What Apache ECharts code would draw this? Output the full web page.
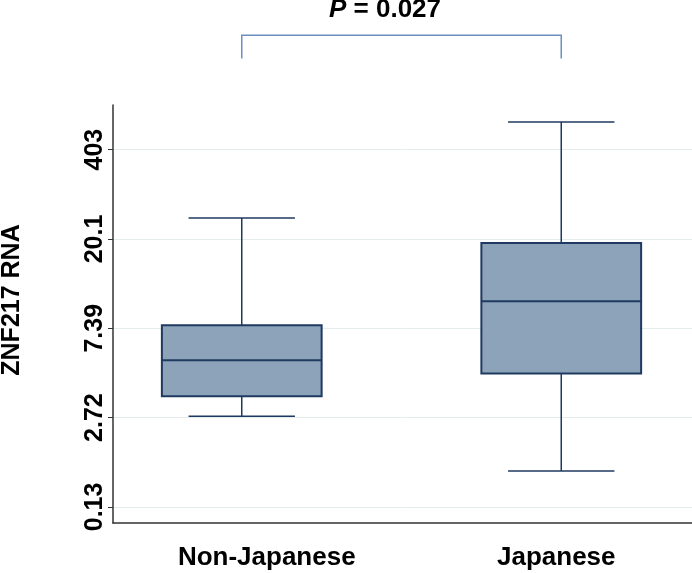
<!DOCTYPE html>
<html>
<head>
<meta charset="utf-8">
<script src="https://cdn.jsdelivr.net/npm/echarts@6/dist/echarts.min.js"></script>
<style>html,body{margin:0;padding:0;background:#fff}#c{width:692px;height:573px}</style>
</head>
<body>
<div id="c"></div>
<script>
// Categories
const categories = ['Non-Japanese', 'Japanese'];
// Y axis tick labels (evenly spaced positions 0..4 on the plotted scale)
const yTickLabels = ['0.13', '2.72', '7.39', '20.1', '403'];
const yTickPositions = [0, 1, 2, 3, 4];
// Box statistics, in plotted-axis units
const lowerWhisker = [1.016, 0.403];
const q1 = [1.240, 1.494];
const median = [1.643, 2.303];
const q3 = [2.035, 2.956];
const upperWhisker = [3.236, 4.311];
const pText = '{p|P} = 0.027';
const bracketLevels = [5.02, 5.28];

const Y_MIN = -0.18, Y_MAX = 4.5;
const FONT = 'Liberation Sans, Arial, sans-serif';
const boxData = categories.map((c, i) => [i, lowerWhisker[i], q1[i], median[i], q3[i], upperWhisker[i]]);

const chart = echarts.init(document.getElementById('c'));
const stroke = '#1f3a60';
chart.setOption({
  animation: false,
  backgroundColor: '#fff',
  title: {
    text: pText, left: 329, top: -3, padding: 0,
    textStyle: { fontFamily: FONT, fontSize: 26, fontWeight: 'bold', color: '#000',
      rich: { p: { fontFamily: FONT, fontSize: 26, fontWeight: 'bold', fontStyle: 'italic', color: '#000' } } }
  },
  grid: [
    { left: 113, right: 0, top: 105, bottom: 50, outerBoundsMode: 'none', containLabel: false },
    { left: 82, width: 639, top: 105, bottom: 50, outerBoundsMode: 'none', containLabel: false }
  ],
  xAxis: [
    { type: 'category', gridIndex: 0, data: categories,
      axisLine: { onZero: false, lineStyle: { color: '#333', width: 1.5 } },
      axisTick: { show: false },
      axisLabel: { fontFamily: FONT, fontSize: 26, fontWeight: 'bold', color: '#000', margin: 22, padding: [0, 0, 0, 18] },
      splitLine: { show: false } },
    { type: 'category', gridIndex: 1, data: categories, show: false }
  ],
  yAxis: [
    { type: 'value', gridIndex: 0, min: Y_MIN, max: Y_MAX,
      name: 'ZNF217 RNA', nameLocation: 'middle', nameGap: 88,
      nameTextStyle: { fontFamily: FONT, fontSize: 25, fontWeight: 'bold', color: '#000', padding: [0, 0, 0, 28] },
      axisLine: { show: true, onZero: false, lineStyle: { color: '#333', width: 1.5 } },
      axisTick: { show: true, length: 5, customValues: yTickPositions, lineStyle: { color: '#333' } },
      axisLabel: { customValues: yTickPositions, rotate: 90, margin: 5,
        formatter: v => yTickLabels[yTickPositions.indexOf(Math.round(v))] || '',
        fontFamily: FONT, fontSize: 25, fontWeight: 'bold', color: '#000' },
      splitLine: { show: true, lineStyle: { color: '#e4ecee', width: 1 } } },
    { type: 'value', gridIndex: 1, min: Y_MIN, max: Y_MAX, show: false, splitLine: { show: false } }
  ],
  series: [{
    type: 'custom', xAxisIndex: 1, yAxisIndex: 1,
    encode: { x: 0, y: [1, 2, 3, 4, 5] },
    data: boxData,
    renderItem: function (params, api) {
      const i = api.value(0);
      const cx = api.coord([i, api.value(3)])[0];
      const band = api.size([1, 0])[0];
      const bw = band * 0.5, cw = band * 0.333;
      const yLo = api.coord([i, api.value(1)])[1];
      const yQ1 = api.coord([i, api.value(2)])[1];
      const yMed = api.coord([i, api.value(3)])[1];
      const yQ3 = api.coord([i, api.value(4)])[1];
      const yHi = api.coord([i, api.value(5)])[1];
      const ls = { stroke: stroke, lineWidth: 1.5, fill: null };
      return { type: 'group', children: [
        { type: 'line', shape: { x1: cx, y1: yQ3, x2: cx, y2: yHi }, style: ls },
        { type: 'line', shape: { x1: cx, y1: yQ1, x2: cx, y2: yLo }, style: ls },
        { type: 'line', shape: { x1: cx - cw / 2, y1: yHi, x2: cx + cw / 2, y2: yHi }, style: ls },
        { type: 'line', shape: { x1: cx - cw / 2, y1: yLo, x2: cx + cw / 2, y2: yLo }, style: ls },
        { type: 'rect', shape: { x: cx - bw / 2, y: yQ3, width: bw, height: yQ1 - yQ3 },
          style: { fill: '#8ca3b9', stroke: stroke, lineWidth: 2 } },
        { type: 'line', shape: { x1: cx - bw / 2, y1: yMed, x2: cx + bw / 2, y2: yMed }, style: { stroke: stroke, lineWidth: 2 } }
      ] };
    }
  }]
});

// significance bracket between the two groups
const p0 = chart.convertToPixel({ xAxisIndex: 1, yAxisIndex: 1 }, [0, bracketLevels[1]]);
const p1 = chart.convertToPixel({ xAxisIndex: 1, yAxisIndex: 1 }, [1, bracketLevels[1]]);
const yb = chart.convertToPixel({ xAxisIndex: 1, yAxisIndex: 1 }, [0, bracketLevels[0]])[1];
chart.setOption({
  graphic: [{
    type: 'polyline',
    shape: { points: [[p0[0], yb], [p0[0], p0[1]], [p1[0], p1[1]], [p1[0], yb]] },
    style: { stroke: '#6c8fc2', lineWidth: 1.5, fill: null }
  }]
});
</script>
</body>
</html>
